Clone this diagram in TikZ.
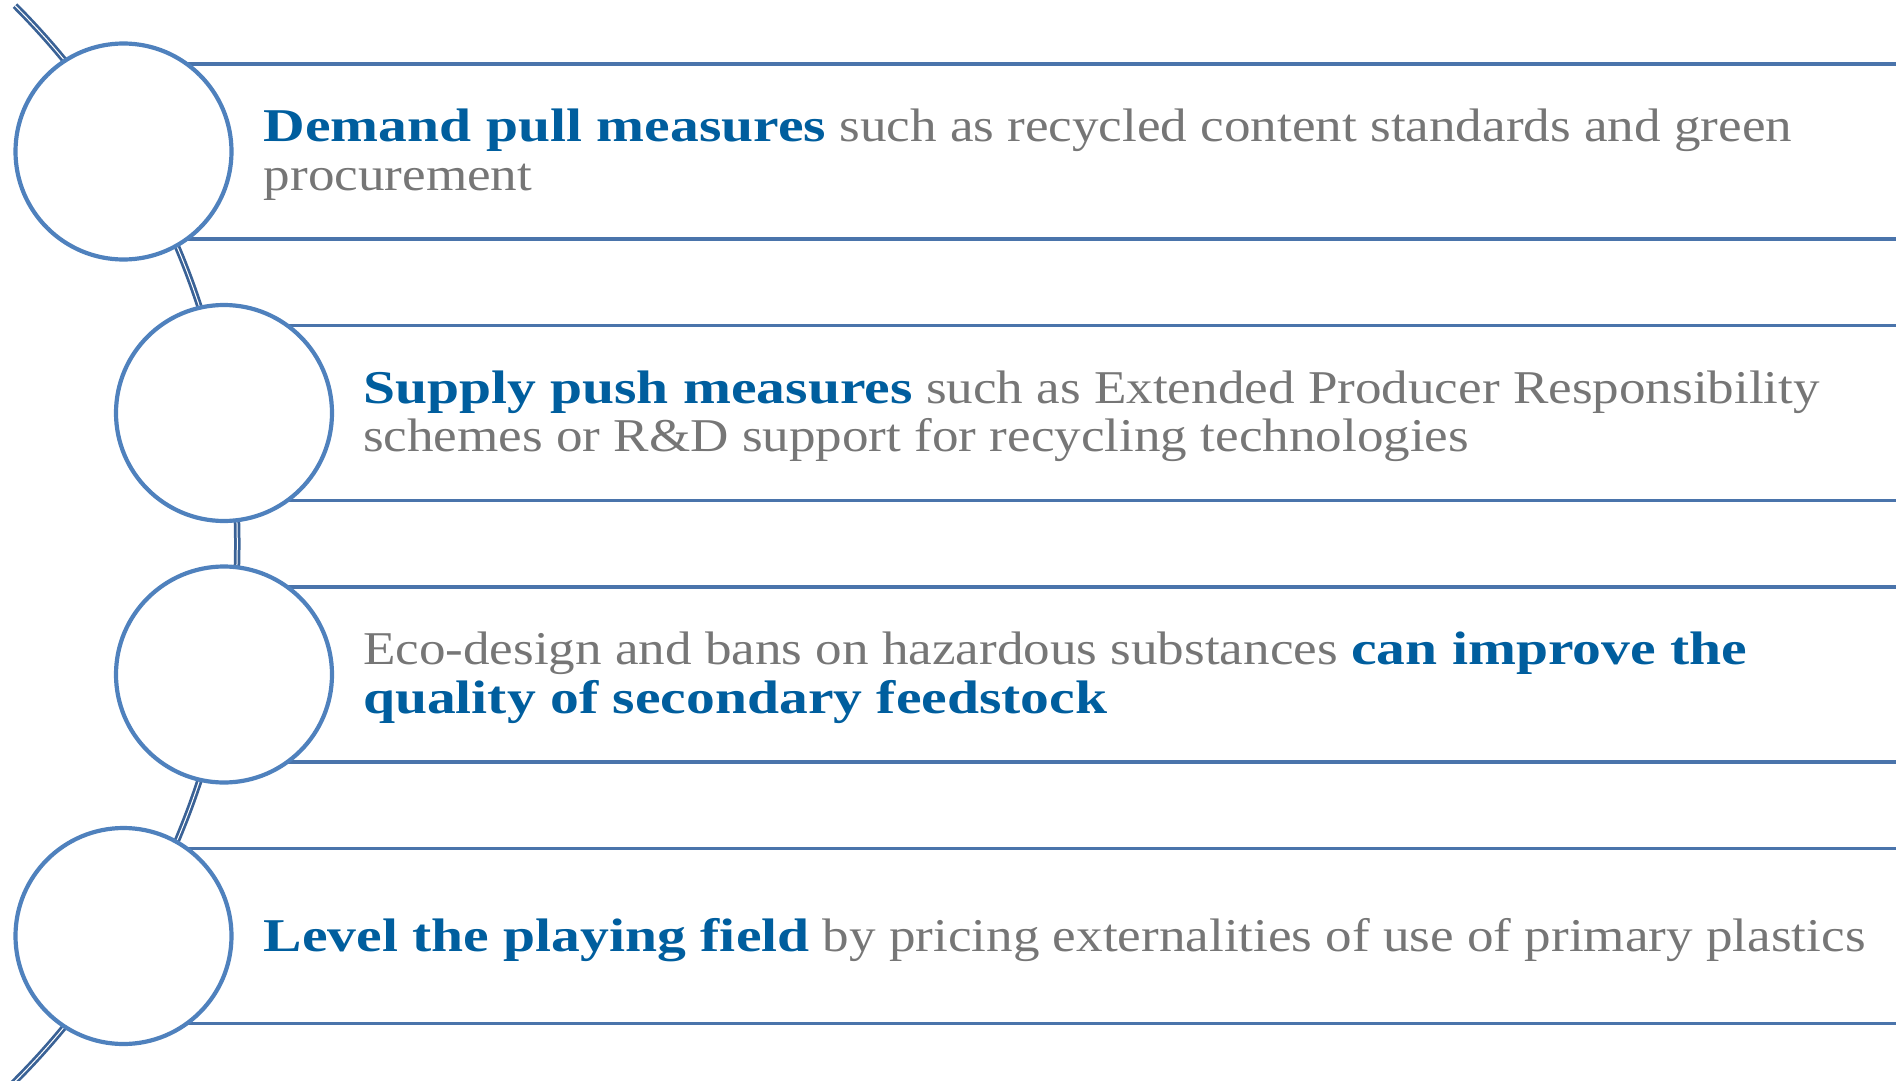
\documentclass[tikz,border=0pt]{standalone}
\usepackage{fontspec}
\setmainfont{Liberation Serif}[FakeStretch=1.13, BoldFeatures={FakeStretch=1.226}]
\definecolor{accblue}{HTML}{005E9E}
\definecolor{txtgray}{HTML}{767676}
\definecolor{ringblue}{HTML}{4F81BD}
\definecolor{bandblue}{HTML}{4A74AB}
\definecolor{spineblue}{HTML}{3A6296}
\tikzset{
  ring/.style={circle, draw=ringblue, line width=4.2pt, fill=white, minimum size=216pt, inner sep=0pt},
  bandline/.style={draw=bandblue, line width=3.5pt},
  spine/.style={draw=white, line width=1pt, preaction={draw=spineblue, line width=6.5pt}},
  txt/.style={anchor=base west, inner sep=0pt, text=txtgray, font=\fontsize{47}{48}\selectfont},
}
\newcommand{\hl}[1]{\textcolor{accblue}{\bfseries #1}}
\begin{document}
\begin{tikzpicture}[x=1pt,y=-1pt]
\useasboundingbox (0,0) rectangle (1896,1081);
% band lines
\foreach \yc/\xc in {151.5/123.5, 413/224, 674.5/224, 936/123.5}{
  \draw[bandline] (\xc,\yc-87.5) -- (1896,\yc-87.5);
  \draw[bandline] (\xc,\yc+87.5) -- (1896,\yc+87.5);
}
% spine arc
\draw[spine] plot[domain=44.9:-45.5, samples=80, smooth] ({-524.7+762*cos(\x)},{543.5-762*sin(\x)});
% rings
\node[ring] (c1) at (123.5,151.5) {};
\node[ring] (c2) at (224,413) {};
\node[ring] (c3) at (224,674.5) {};
\node[ring] (c4) at (123.5,936) {};
% texts
\node[txt] (t1a) at (263.6,141.5) {\hl{Demand pull measures} such as recycled content standards and green};
\node[txt] (t1b) at (263.6,190) {procurement};
\node[txt] (t2a) at (362.8,403) {\hl{Supply push measures} such as Extended Producer Responsibility};
\node[txt] (t2b) at (362.8,451.5) {schemes or R\&D support for recycling technologies};
\node[txt] (t3a) at (362.8,664.5) {Eco-design and bans on hazardous substances \hl{can improve the}};
\node[txt] (t3b) at (362.8,713) {\hl{quality of secondary feedstock}};
\node[txt] (t4a) at (263.6,951) {\hl{Level the playing field} by pricing externalities of use of primary plastics};
\end{tikzpicture}
\end{document}
